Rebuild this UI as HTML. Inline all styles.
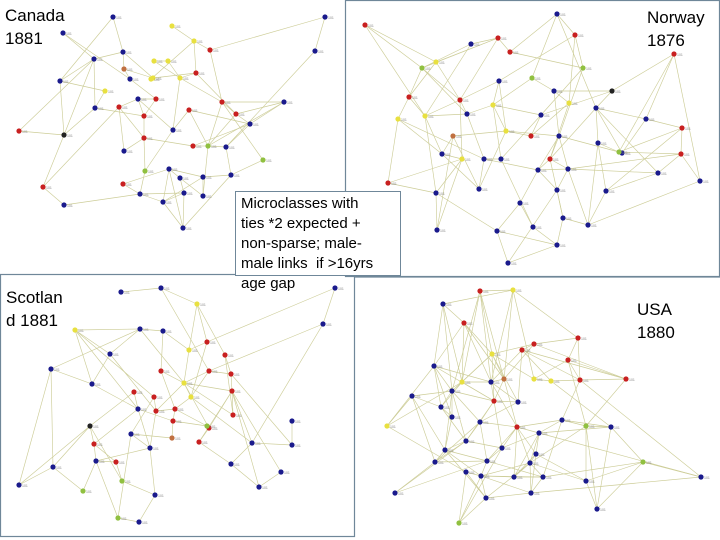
<!DOCTYPE html>
<html><head><meta charset="utf-8">
<style>
html,body{margin:0;padding:0;background:#fff;}
#wrap{position:relative;width:720px;height:540px;overflow:hidden;font-family:"Liberation Sans",Arial,sans-serif;}
svg{position:absolute;left:0;top:0;}
.lbl{position:absolute;font-size:17px;line-height:23px;color:#000;}
#box{position:absolute;left:235px;top:191px;width:164px;height:83px;border:1px solid #6f8799;background:#fff;}
#boxt{position:absolute;left:241px;top:194px;font-size:15px;line-height:20px;color:#000;white-space:nowrap;}
</style></head><body>
<div id="wrap">
<svg id="s" width="720" height="540" viewBox="0 0 720 540">
<rect x="345.5" y="0.5" width="374" height="276" fill="none" stroke="#6f8799" stroke-width="1.2"/>
<rect x="0.5" y="274.5" width="354" height="262" fill="none" stroke="#6f8799" stroke-width="1.2"/>
<line x1="355" y1="277" x2="720" y2="277" stroke="#6f8799" stroke-width="1.2"/>
<g id="edges" stroke="#cdcd98" stroke-width="0.65" fill="none"></g>
<g id="nodes"></g>
</svg>
<div class="lbl" style="left:5px;top:4px;">Canada<br>1881</div>
<div class="lbl" style="left:647px;top:6px;">Norway<br>1876</div>
<div class="lbl" style="left:6px;top:286px;">Scotlan<br>d 1881</div>
<div class="lbl" style="left:637px;top:298px;">USA<br>1880</div>
<div id="box"></div>
<div id="boxt">Microclasses with<br>ties *2 expected +<br>non-sparse; male-<br>male links&nbsp; if &gt;16yrs<br>age gap</div>
</div>
<script>
var C={b:"#1a1a8c",r:"#c82020",y:"#e8e040",g:"#90c040",d:"#222",o:"#c07040"};
var panels=[
{deg:2.2,n:{
b:[[113,17],[325,17],[63,33],[315,51],[123,52],[94,59],[60,81],[130,79],[95,108],[138,99],[284,102],[250,124],[173,130],[124,151],[226,147],[169,169],[231,175],[203,177],[180,178],[184,193],[140,194],[163,202],[203,196],[183,228],[64,205]],
r:[[210,50],[196,73],[156,99],[222,102],[119,107],[189,110],[144,116],[236,114],[19,131],[144,138],[193,146],[43,187],[123,184]],
y:[[172,26],[194,41],[154,61],[168,61],[180,78],[153,78],[105,91],[151,79]],
g:[[208,146],[263,160],[145,171]],d:[[64,135]],o:[[124,69]]}},
{deg:3,n:{
r:[[365,25],[498,38],[575,35],[510,52],[409,97],[460,100],[531,136],[550,159],[674,54],[682,128],[681,154],[388,183]],
b:[[557,14],[471,44],[499,81],[554,91],[467,114],[541,115],[596,108],[646,119],[559,136],[598,143],[442,154],[484,159],[501,159],[538,170],[568,169],[622,153],[658,173],[700,181],[436,193],[479,189],[557,190],[606,191],[520,203],[563,218],[588,225],[437,230],[497,231],[533,227],[557,245],[508,263]],
y:[[436,62],[398,119],[425,116],[493,105],[506,131],[462,159],[569,103]],
g:[[422,68],[532,78],[583,68],[619,152]],d:[[612,91]],o:[[453,136]]}},
{deg:2.4,n:{
b:[[121,292],[161,288],[140,329],[163,331],[110,354],[51,369],[92,384],[138,409],[131,434],[150,448],[96,461],[53,467],[19,485],[155,495],[139,522],[292,421],[292,445],[252,443],[231,464],[281,472],[259,487],[335,288],[323,324]],
r:[[207,342],[225,355],[161,371],[209,371],[231,374],[232,391],[134,392],[154,397],[156,411],[175,409],[173,421],[233,415],[209,428],[94,444],[116,462],[199,442]],
y:[[197,304],[75,330],[189,350],[184,383],[191,397]],
g:[[207,426],[122,481],[83,491],[118,518]],d:[[90,426]],o:[[172,438]]}},
{deg:4.5,n:{
r:[[480,291],[464,323],[534,344],[522,350],[578,338],[568,360],[580,380],[626,379],[494,401],[517,427]],
o:[[504,379]],
y:[[513,290],[492,354],[462,382],[534,379],[551,381],[387,426]],
b:[[443,304],[434,366],[491,382],[452,391],[412,396],[441,407],[518,402],[452,417],[480,422],[562,420],[539,433],[611,427],[466,441],[502,448],[445,450],[536,454],[435,462],[487,461],[530,463],[466,472],[481,476],[514,477],[543,477],[586,481],[395,493],[486,498],[531,493],[597,509],[701,477]],
g:[[586,426],[643,462],[459,523]]}}];
var seed=7;function rnd(){seed=(seed*16807)%2147483647;return (seed-1)/2147483646;}
var NS="http://www.w3.org/2000/svg",E=document.getElementById("edges"),N=document.getElementById("nodes");
var done={};
panels.forEach(function(p,pi){
 var pts=[];for(var k in p.n)p.n[k].forEach(function(q){pts.push({x:q[0],y:q[1],c:C[k]});});
 function add(a,b){var key=pi+"_"+Math.min(a,b)+"_"+Math.max(a,b);if(a==b||done[key])return;done[key]=1;
  var l=document.createElementNS(NS,"line");l.setAttribute("x1",pts[a].x);l.setAttribute("y1",pts[a].y);l.setAttribute("x2",pts[b].x);l.setAttribute("y2",pts[b].y);E.appendChild(l);}
 pts.forEach(function(a,i){
  var d=pts.map(function(b,j){return [Math.hypot(a.x-b.x,a.y-b.y),j];}).sort(function(u,v){return u[0]-v[0];});
  add(i,d[1][1]);
  var m=Math.floor(p.deg-1+rnd());
  for(var t=0;t<m;t++){var j=d[1+Math.floor(rnd()*Math.min(d.length-1,12))][1];add(i,j);}
 });
 pts.forEach(function(a){
  var c=document.createElementNS(NS,"circle");c.setAttribute("cx",a.x);c.setAttribute("cy",a.y);c.setAttribute("r",2.6);c.setAttribute("fill",a.c);N.appendChild(c);
  var t=document.createElementNS(NS,"text");t.setAttribute("x",a.x+3);t.setAttribute("y",a.y+2);t.setAttribute("font-size","3.5");t.setAttribute("fill","#888");t.setAttribute("font-family","Liberation Sans, sans-serif");t.textContent="101";N.appendChild(t);
 });
});
</script>
</body></html>
